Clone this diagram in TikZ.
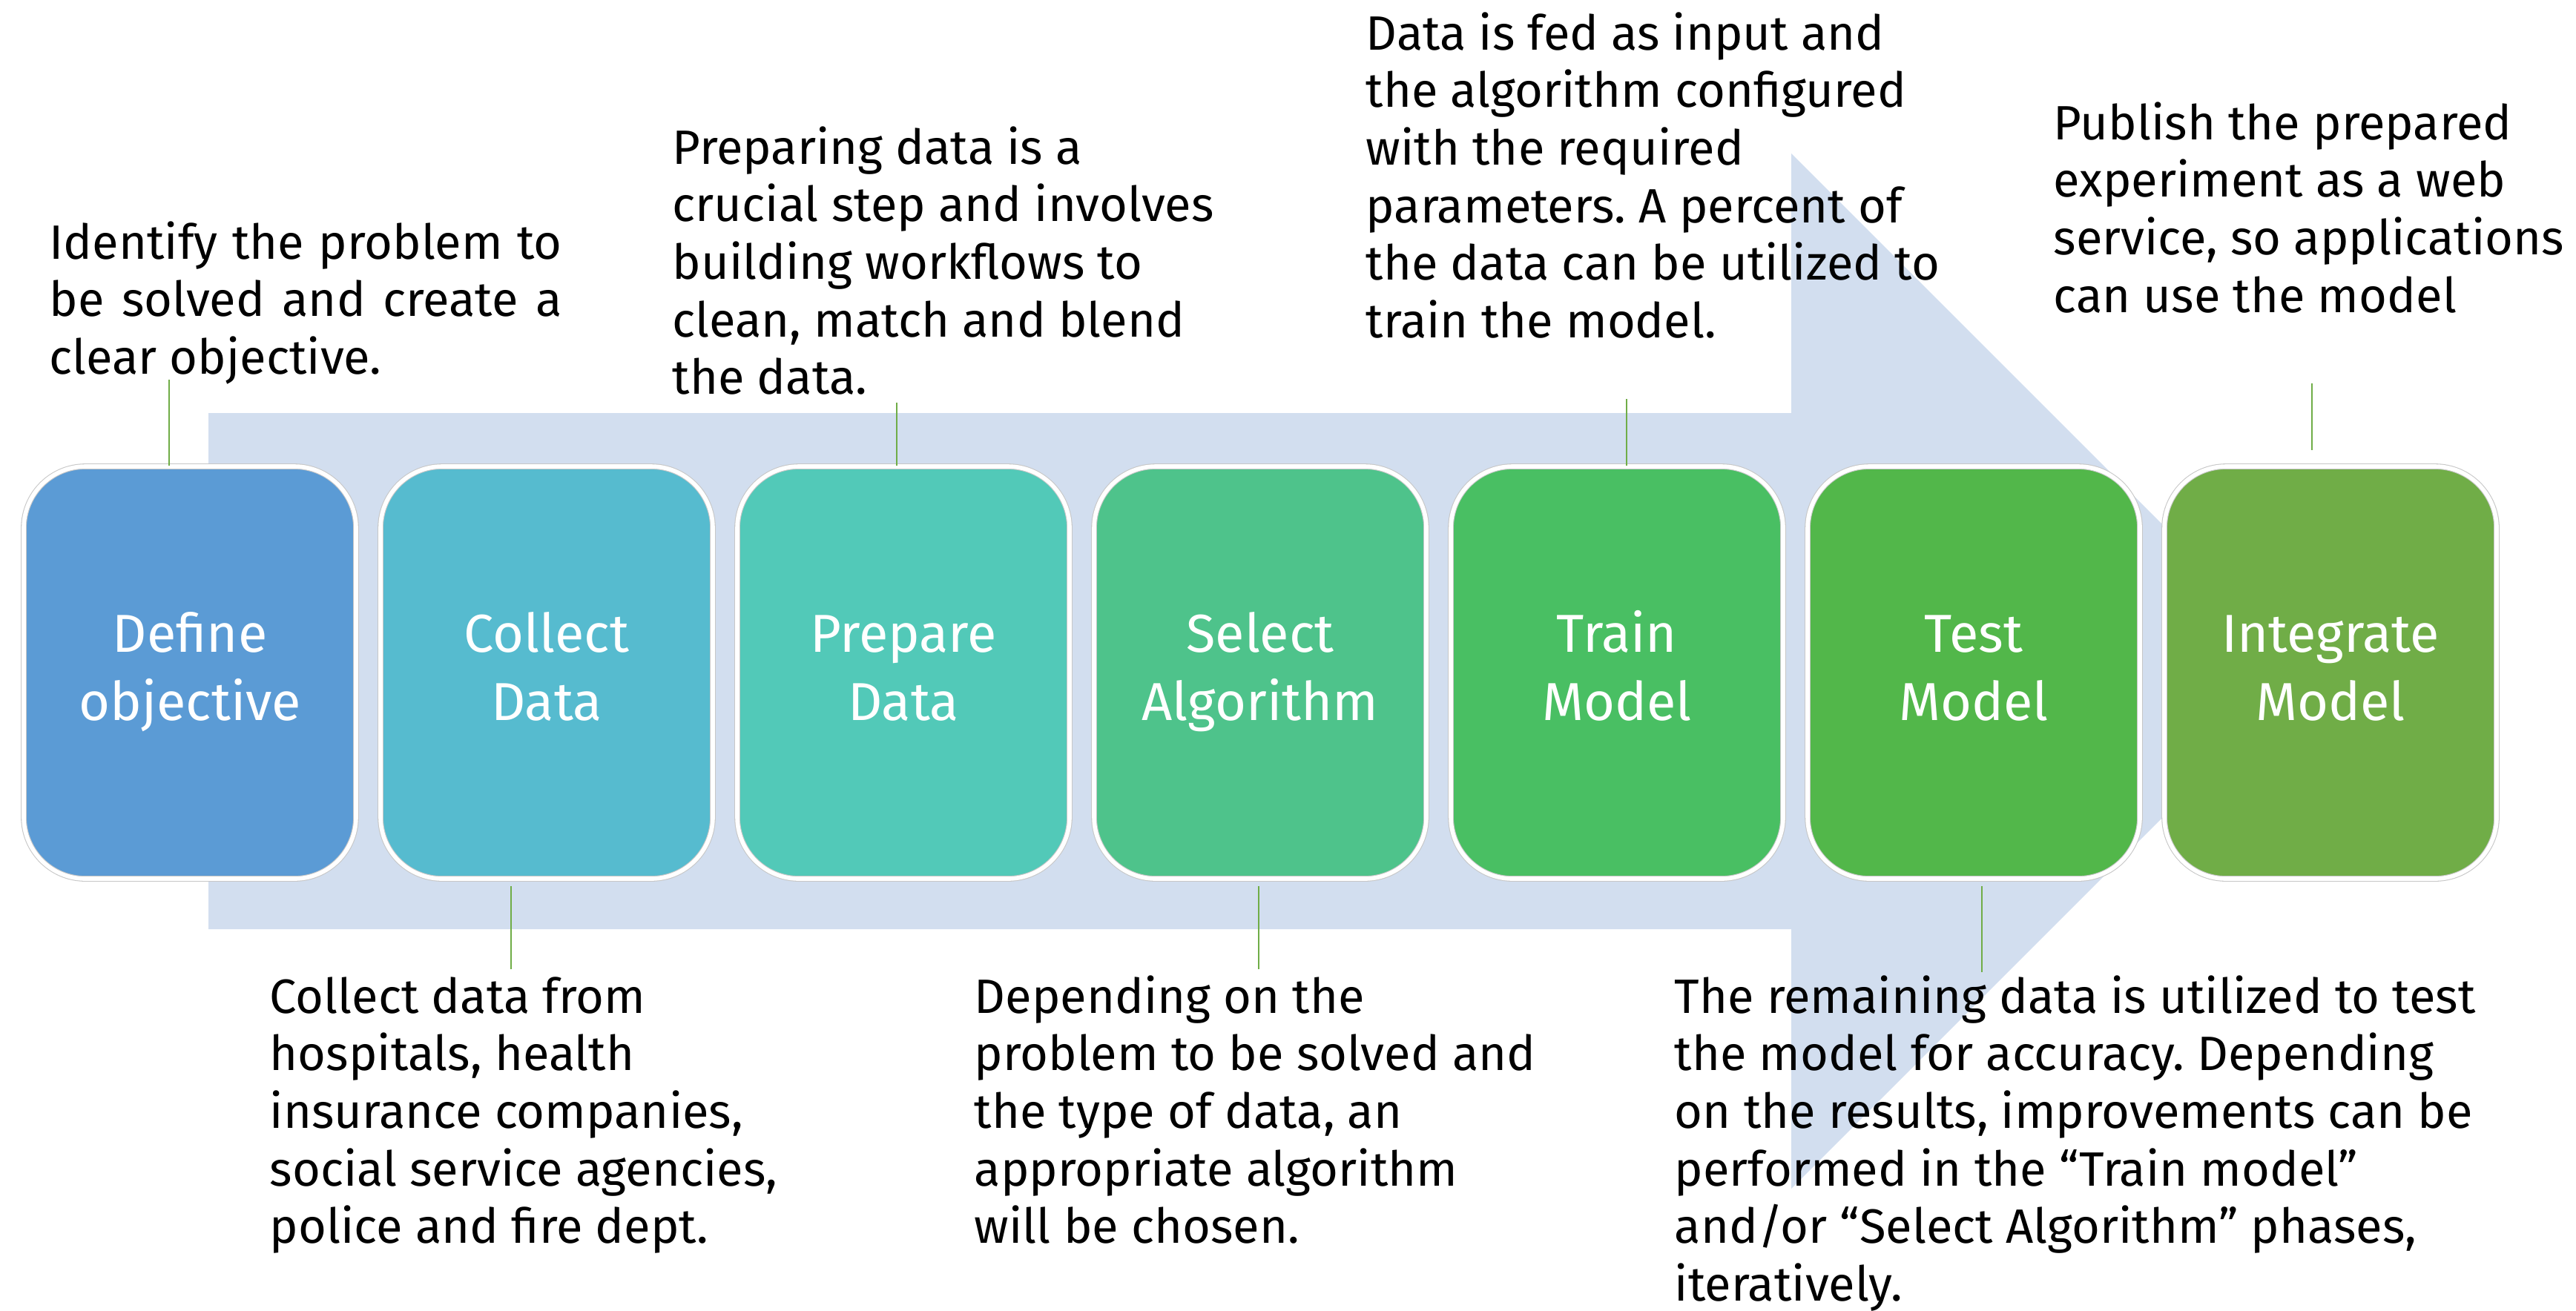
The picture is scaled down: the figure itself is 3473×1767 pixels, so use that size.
\documentclass[tikz,border=0pt]{standalone}
\usepackage{fontspec}
\setmainfont{Fira Sans}
\frenchspacing
\definecolor{flow}{HTML}{D2DEEF}
\definecolor{cA}{HTML}{5B9BD5}
\definecolor{cB}{HTML}{56BBCF}
\definecolor{cC}{HTML}{52C9B8}
\definecolor{cD}{HTML}{4EC38B}
\definecolor{cE}{HTML}{49BF63}
\definecolor{cF}{HTML}{52B74A}
\definecolor{cG}{HTML}{70AD47}
\definecolor{linkgreen}{HTML}{70AD47}
% a left-aligned block whose baseline is that of its first line
\newcommand\notelines[1]{\begin{tabular}[t]{@{}l@{}}#1\end{tabular}}
\newcommand\boxlines[1]{\begin{tabular}{@{}c@{}}#1\end{tabular}}
\begin{document}
\begin{tikzpicture}[x=0.1mm,y=-0.1mm,
  stepbox/.style={rounded corners=8.3mm, minimum width=44.8mm, minimum height=55.6mm,
    draw=black!22, double=white, double distance=1.6pt, line width=0.3pt,
    text=white, font=\fontsize{20.5}{26.1}\selectfont, inner sep=0},
  note/.style={anchor=base west, inner sep=0, font=\fontsize{18.5}{22.1}\selectfont},
  link/.style={draw=linkgreen, line width=0.6pt}]
\useasboundingbox (0,0) rectangle (3473,1767);

% broad process arrow behind the steps
\fill[flow] (281,557) -- (2415,557) -- (2415,207) -- (3113,905)
  -- (2415,1603) -- (2415,1253) -- (281,1253) -- cycle;

% process steps
\node[stepbox, fill=cA] (b1) at (256,907)  {\boxlines{Define\\objective}};
\node[stepbox, fill=cB] (b2) at (737,907)  {\boxlines{Collect\\Data}};
\node[stepbox, fill=cC] (b3) at (1218,907) {\boxlines{Prepare\\Data}};
\node[stepbox, fill=cD] (b4) at (1699,907) {\boxlines{Select\\Algorithm}};
\node[stepbox, fill=cE] (b5) at (2180,907) {\boxlines{Train\\Model}};
\node[stepbox, fill=cF] (b6) at (2661,907) {\boxlines{Test\\Model}};
\node[stepbox, fill=cG] (b7) at (3142,907) {\boxlines{Integrate\\Model}};

% descriptions above
\node[note] (t1) at (66,349) {\notelines{\makebox[69.1mm][s]{Identify the problem to}\\
  \makebox[69.1mm][s]{be solved and create a}\\clear objective.}};
\node[note] (t3) at (906,221) {\notelines{Preparing data is a\\crucial step and involves\\building workflows to\\clean, match and blend\\the data.}};
\node[note] (t5) at (1841,67) {\notelines{Data is fed as input and\\the algorithm configured\\with the required\\parameters. A percent of\\the data can be utilized to\\train the model.}};
\node[note] (t7) at (2768,188) {\notelines{Publish the prepared\\experiment as a web\\service, so applications\\can use the model}};

% descriptions below
\node[note] (t2) at (363,1366) {\notelines{Collect data from\\hospitals, health\\insurance companies,\\social service agencies,\\police and fire dept.}};
\node[note] (t4) at (1313,1366) {\notelines{Depending on the\\problem to be solved and\\the type of data, an\\appropriate algorithm\\will be chosen.}};
\node[note] (t6) at (2257,1366) {\notelines{The remaining data is utilized to test\\the model for accuracy. Depending\\on the results, improvements can be\\performed in the “Train model”\\and/or “Select Algorithm” phases,\\iteratively.}};

% leader lines
\coordinate (l1) at (228,512);
\coordinate (l2) at (689,1307);
\coordinate (l3) at (1209,543);
\coordinate (l4) at (1697,1307);
\coordinate (l5) at (2193,538);
\coordinate (l6) at (2672,1311);
\coordinate (l7) at (3117,517);
\coordinate (l7e) at (3117,607);
\draw[link] (l1) -- (l1 |- b1.north);
\draw[link] (l2) -- ([yshift=-0.9mm]l2 |- b2.south);
\draw[link] (l3) -- (l3 |- b3.north);
\draw[link] (l4) -- ([yshift=-0.9mm]l4 |- b4.south);
\draw[link] (l5) -- (l5 |- b5.north);
\draw[link] (l6) -- ([yshift=-0.9mm]l6 |- b6.south);
\draw[link] (l7) -- (l7e);
\end{tikzpicture}
\end{document}
